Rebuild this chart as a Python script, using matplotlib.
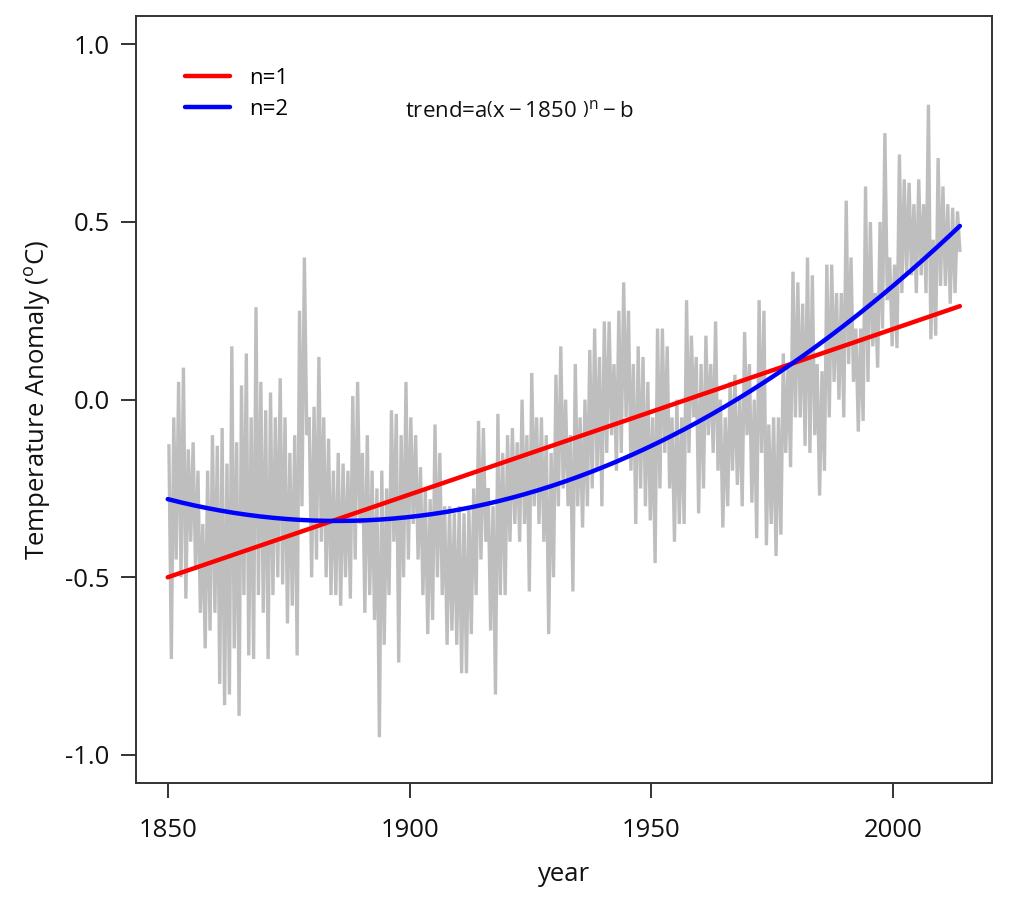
import numpy as np
import matplotlib
matplotlib.use("Agg")
import matplotlib.pyplot as plt

plt.rcParams['font.family'] = ['Open Sans', 'DejaVu Sans']
plt.rcParams['mathtext.fontset'] = 'custom'
plt.rcParams['mathtext.rm'] = 'Open Sans'
plt.rcParams['mathtext.it'] = 'Open Sans'
plt.rcParams['mathtext.sf'] = 'Open Sans'

# ---- data ----
years = list(range(1850, 2014))

# upper envelope of the monthly anomaly trace, per year
anom_high = [
    -0.13, -0.05, 0.05, 0.09, -0.14, -0.12, -0.20, -0.35, -0.20, -0.10,
    -0.13, -0.08, -0.18, 0.15, -0.12, 0.04, 0.13, -0.05, 0.26, 0.05,
    -0.03, 0.02, -0.05, 0.06, -0.05, -0.15, -0.10, 0.25, 0.40, -0.05,
    -0.02, 0.12, -0.05, -0.11, -0.20, -0.15, -0.18, -0.20, 0.01, 0.05,
    -0.15, -0.10, -0.20, -0.25, -0.20, -0.25, -0.03, -0.04, -0.10, 0.05,
    -0.05, -0.10, -0.19, -0.25, -0.28, -0.07, -0.15, -0.30, -0.30, -0.32,
    -0.30, -0.32, -0.30, -0.25, -0.06, -0.08, -0.25, -0.30, -0.04, -0.15,
    -0.10, -0.08, -0.12, 0.00, -0.10, 0.075, -0.05, -0.05, -0.10, -0.15,
    0.07, 0.15, 0.00, -0.10, 0.10, -0.05, 0.00, 0.14, 0.20, 0.12,
    0.22, 0.22, 0.10, 0.25, 0.33, 0.25, 0.10, 0.15, 0.12, 0.05,
    -0.05, 0.20, 0.20, 0.15, -0.05, 0.00, -0.05, 0.28, 0.18, 0.12,
    0.10, 0.18, 0.10, 0.22, 0.00, -0.05, 0.05, 0.07, 0.00, 0.19,
    0.10, 0.00, 0.28, 0.25, -0.07, -0.05, -0.05, 0.13, 0.10, 0.36,
    0.33, 0.27, 0.40, 0.35, 0.10, 0.08, 0.38, 0.38, 0.30, 0.30,
    0.56, 0.40, 0.20, 0.20, 0.60, 0.50, 0.30, 0.50, 0.75, 0.40,
    0.38, 0.69, 0.62, 0.61, 0.55, 0.62, 0.55, 0.83, 0.45, 0.68,
    0.60, 0.55, 0.54, 0.53,
]

# lower envelope of the monthly anomaly trace, per year
anom_low = [
    -0.73, -0.45, -0.50, -0.56, -0.40, -0.48, -0.60, -0.70, -0.65, -0.60,
    -0.80, -0.86, -0.83, -0.70, -0.89, -0.55, -0.72, -0.73, -0.55, -0.60,
    -0.73, -0.55, -0.50, -0.52, -0.63, -0.58, -0.72, -0.30, -0.10, -0.50,
    -0.45, -0.40, -0.50, -0.55, -0.55, -0.58, -0.50, -0.56, -0.45, -0.35,
    -0.60, -0.55, -0.62, -0.95, -0.69, -0.55, -0.40, -0.74, -0.50, -0.45,
    -0.35, -0.45, -0.55, -0.66, -0.62, -0.50, -0.55, -0.69, -0.65, -0.69,
    -0.77, -0.77, -0.66, -0.55, -0.45, -0.40, -0.65, -0.83, -0.55, -0.55,
    -0.40, -0.35, -0.40, -0.35, -0.54, -0.30, -0.35, -0.40, -0.66, -0.50,
    -0.30, -0.25, -0.30, -0.54, -0.30, -0.36, -0.30, -0.25, -0.20, -0.30,
    -0.15, -0.10, -0.20, -0.15, -0.05, -0.20, -0.35, -0.25, -0.30, -0.34,
    -0.46, -0.25, -0.15, -0.25, -0.40, -0.35, -0.35, -0.15, -0.05, -0.32,
    -0.25, -0.10, -0.15, -0.20, -0.36, -0.30, -0.20, -0.24, -0.30, -0.10,
    -0.29, -0.39, -0.15, -0.41, -0.35, -0.44, -0.38, -0.15, -0.19, -0.05,
    -0.05, -0.13, -0.15, -0.10, -0.27, -0.20, -0.05, 0.05, 0.00, -0.05,
    0.10, 0.05, -0.09, -0.06, 0.05, 0.15, 0.09, 0.20, 0.28, 0.15,
    0.145, 0.30, 0.35, 0.35, 0.30, 0.35, 0.30, 0.17, 0.18, 0.32,
    0.32, 0.27, 0.30, 0.42,
]

# trend coefficients (lowest order first), t = year - 1850
trend_n1 = [-0.50, 0.00466]
trend_n2 = [-0.28, -0.003509, 5.01e-5]

legend_labels = ["n=1", "n=2"]
trend_colors = ["#FF0000", "#0000FF"]

# ---- build the zig-zag trace (high then low within each year) ----
tx, ty = [], []
for y, h, l in zip(years, anom_high, anom_low):
    tx += [y + 0.25, y + 0.75]
    ty += [h, l]

fig = plt.figure(figsize=(10.24, 9.09), dpi=100)
ax = fig.add_axes([0.1328, 0.1386, 0.836, 0.8438])

ax.plot(tx, ty, color="#BEBEBE", lw=2.4, solid_joinstyle="miter", zorder=1)

xs = np.linspace(years[0], years[-1] + 0.75, 300)
t = xs - 1850
for coefs, col, lab in zip([trend_n1, trend_n2], trend_colors, legend_labels):
    ax.plot(xs, np.polyval(coefs[::-1], t), color=col, lw=3.2, label=lab,
            solid_capstyle="round", zorder=2)

ax.set_xlim(1843.44, 2020.4)
ax.set_ylim(-1.079, 1.0797)
ax.set_xticks([1850, 1900, 1950, 2000])
ax.set_yticks([-1.0, -0.5, 0.0, 0.5, 1.0])
ax.set_yticklabels(["-1.0", "-0.5", "0.0", "0.5", "1.0"])
ax.tick_params(axis="both", direction="out", length=11, width=1.4,
               color="#333333", labelsize=18.5, labelcolor="#111111")
ax.tick_params(axis="x", pad=14)
ax.tick_params(axis="y", pad=8)
for s in ax.spines.values():
    s.set_color("#333333")
    s.set_linewidth(1.4)

ax.set_xlabel("year", fontsize=18.5, labelpad=14, color="#111111")
ax.set_ylabel(r"Temperature Anomaly ($^{\mathrm{o}}$C)", fontsize=18.5,
              labelpad=9, color="#111111")

leg = ax.legend(loc="upper left", bbox_to_anchor=(0.047, 0.944),
                frameon=False, fontsize=16, handlelength=2.0,
                handletextpad=0.9, labelspacing=0.45, borderaxespad=0.0)

ax.text(0.314, 0.875, r"trend=a$\left(\mathrm{x}-1850\ \right)^{\mathrm{n}}-\mathrm{b}$",
        transform=ax.transAxes, fontsize=16, color="#111111",
        ha="left", va="center")

fig.savefig("out.png", dpi=100)
